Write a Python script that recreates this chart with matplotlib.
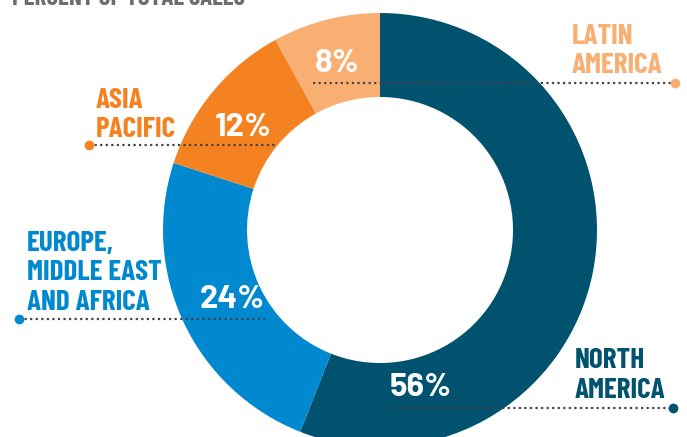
import matplotlib
matplotlib.use('Agg')
import matplotlib.pyplot as plt

regions = ['NORTH\nAMERICA', 'EUROPE,\nMIDDLE EAST\nAND AFRICA', 'ASIA\nPACIFIC', 'LATIN\nAMERICA']
shares = [56, 24, 12, 8]
colors = ['#00526F', '#0089CF', '#F58220', '#F9AF72']

W, H = 687, 437
label_font = ['Barlow Condensed', 'DejaVu Sans']
pct_font = ['Barlow', 'DejaVu Sans']


def py(y):
    # pixel row (top origin) -> data y
    return H - y


fig = plt.figure(figsize=(W / 100, H / 100), dpi=100)
ax = fig.add_axes([0, 0, 1, 1])

cx, cy, r_out, r_in = 380, 230, 217, 133
ax.pie(shares, colors=colors, startangle=90, counterclock=False,
       center=(cx, py(cy)), radius=r_out,
       wedgeprops=dict(width=r_out - r_in, linewidth=0))
ax.set_xlim(0, W)
ax.set_ylim(0, H)
ax.set_aspect('equal')
ax.axis('off')

# label layout: (label x, label top-line y, pct center, line x0, line x1, line y, dot x)
layout = [
    (575, 361, (421, 388), 391, 673, 408, 673),
    (27, 243, (232, 300), 19, 265, 319, 19),
    (96, 100, (243, 127), 89, 275, 145, 89),
    (572, 36, (337, 64), 313, 675, 83, 675),
]

for name, val, col, (lx, ly, (px, ppy), x0, x1, yl, dx) in zip(regions, shares, colors, layout):
    for i, line in enumerate(name.split('\n')):
        ax.text(lx, py(ly + i * 29.5), line, color=col, fontsize=21, fontweight='bold',
                family=label_font, ha='left', va='center')
    ax.text(px, py(ppy), f'{val}%', color='white', fontsize=23.5, fontweight='bold',
            family=pct_font, ha='center', va='center')
    ax.plot([x0, x1], [py(yl), py(yl)], color='#444444', linestyle=(0, (1, 1.5)),
            linewidth=1.6)
    ax.plot([dx], [py(yl)], marker='o', markersize=7, color=col, markeredgewidth=0)

fig.text(12 / W, 1.0 + 1 / H, 'PERCENT OF TOTAL SALES', color='#6D6E71', fontsize=18,
         fontweight='bold', family=label_font, ha='left', va='center')

fig.savefig('out.png', dpi=100)
